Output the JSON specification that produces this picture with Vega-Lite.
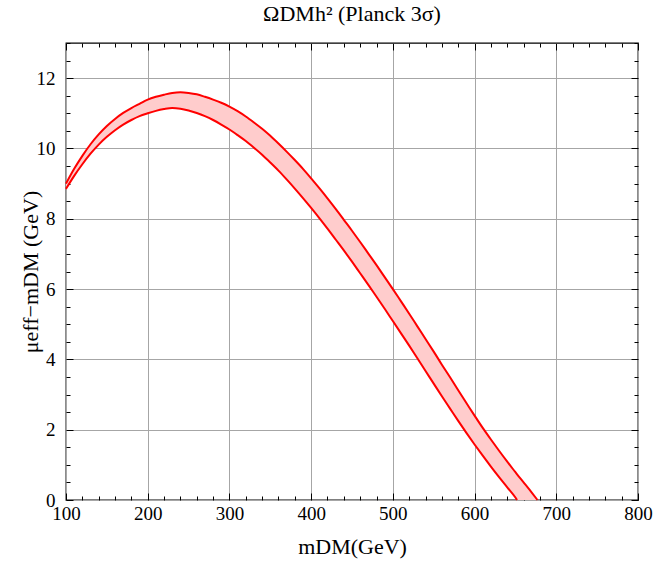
{
  "$schema": "https://vega.github.io/schema/vega-lite/v6.json",
  "width": 572,
  "height": 457,
  "autosize": {"type": "none"},
  "padding": {"left": 66, "top": 43, "right": 17, "bottom": 64},
  "background": "white",
  "title": {"text": "ΩDMh² (Planck 3σ)", "font": "Liberation Serif", "fontSize": 22, "fontWeight": "normal", "color": "black", "offset": 8},
  "config": {
    "view": {"stroke": "black", "strokeWidth": 1.3},
    "axis": {"domain": false, "labelFont": "Liberation Serif", "labelFontSize": 19, "labelColor": "black", "titleFont": "Liberation Serif", "titleFontSize": 22, "titleFontWeight": "normal", "titleColor": "black", "tickColor": "black", "tickWidth": 1, "gridColor": "#a6a6a6", "gridWidth": 1, "labelOverlap": false, "labelFlush": false}
  },
  "data": {"values": [
    {"m": 100, "lo": 8.85, "hi": 9.00},
    {"m": 110, "lo": 9.22, "hi": 9.42},
    {"m": 120, "lo": 9.55, "hi": 9.79},
    {"m": 130, "lo": 9.85, "hi": 10.12},
    {"m": 140, "lo": 10.11, "hi": 10.40},
    {"m": 150, "lo": 10.33, "hi": 10.64},
    {"m": 160, "lo": 10.52, "hi": 10.84},
    {"m": 170, "lo": 10.68, "hi": 11.01},
    {"m": 180, "lo": 10.81, "hi": 11.15},
    {"m": 190, "lo": 10.92, "hi": 11.27},
    {"m": 200, "lo": 11.00, "hi": 11.39},
    {"m": 210, "lo": 11.07, "hi": 11.47},
    {"m": 220, "lo": 11.12, "hi": 11.53},
    {"m": 230, "lo": 11.15, "hi": 11.58},
    {"m": 240, "lo": 11.13, "hi": 11.60},
    {"m": 250, "lo": 11.08, "hi": 11.58},
    {"m": 260, "lo": 11.01, "hi": 11.54},
    {"m": 270, "lo": 10.92, "hi": 11.47},
    {"m": 280, "lo": 10.81, "hi": 11.39},
    {"m": 290, "lo": 10.68, "hi": 11.30},
    {"m": 300, "lo": 10.54, "hi": 11.19},
    {"m": 310, "lo": 10.38, "hi": 11.06},
    {"m": 320, "lo": 10.21, "hi": 10.91},
    {"m": 330, "lo": 10.02, "hi": 10.74},
    {"m": 340, "lo": 9.82, "hi": 10.56},
    {"m": 350, "lo": 9.60, "hi": 10.36},
    {"m": 360, "lo": 9.37, "hi": 10.14},
    {"m": 370, "lo": 9.12, "hi": 9.91},
    {"m": 380, "lo": 8.86, "hi": 9.67},
    {"m": 390, "lo": 8.59, "hi": 9.42},
    {"m": 400, "lo": 8.31, "hi": 9.15},
    {"m": 410, "lo": 8.02, "hi": 8.87},
    {"m": 420, "lo": 7.72, "hi": 8.58},
    {"m": 430, "lo": 7.41, "hi": 8.28},
    {"m": 440, "lo": 7.10, "hi": 7.97},
    {"m": 450, "lo": 6.78, "hi": 7.66},
    {"m": 460, "lo": 6.45, "hi": 7.34},
    {"m": 470, "lo": 6.12, "hi": 7.01},
    {"m": 480, "lo": 5.78, "hi": 6.68},
    {"m": 490, "lo": 5.44, "hi": 6.34},
    {"m": 500, "lo": 5.09, "hi": 6.00},
    {"m": 510, "lo": 4.74, "hi": 5.65},
    {"m": 520, "lo": 4.39, "hi": 5.30},
    {"m": 530, "lo": 4.03, "hi": 4.94},
    {"m": 540, "lo": 3.67, "hi": 4.58},
    {"m": 550, "lo": 3.31, "hi": 4.22},
    {"m": 560, "lo": 2.95, "hi": 3.85},
    {"m": 570, "lo": 2.60, "hi": 3.49},
    {"m": 580, "lo": 2.25, "hi": 3.12},
    {"m": 590, "lo": 1.91, "hi": 2.76},
    {"m": 600, "lo": 1.58, "hi": 2.40},
    {"m": 610, "lo": 1.26, "hi": 2.05},
    {"m": 620, "lo": 0.95, "hi": 1.72},
    {"m": 630, "lo": 0.65, "hi": 1.40},
    {"m": 640, "lo": 0.36, "hi": 1.09},
    {"m": 650, "lo": 0.07, "hi": 0.79},
    {"m": 652, "lo": 0.00, "hi": 0.73},
    {"m": 660, "lo": 0.00, "hi": 0.50},
    {"m": 670, "lo": 0.00, "hi": 0.21},
    {"m": 677, "lo": 0.00, "hi": 0.00}
  ]},
  "layer": [
    {
      "mark": {"type": "area", "color": "#ffcccc", "opacity": 1, "interpolate": "monotone"},
      "encoding": {
        "x": {"field": "m", "type": "quantitative", "scale": {"domain": [100, 800], "nice": false, "zero": false},
          "axis": {"orient": "bottom", "title": "mDM(GeV)", "titlePadding": 10, "labelPadding": 11,
            "values": [100,120,140,160,180,200,220,240,260,280,300,320,340,360,380,400,420,440,460,480,500,520,540,560,580,600,620,640,660,680,700,720,740,760,780,800],
            "labelExpr": "datum.value % 100 === 0 ? toString(datum.value) : ''",
            "tickSize": {"condition": {"test": "datum.value % 100 === 0", "value": -7}, "value": -4},
            "grid": true,
            "gridOpacity": {"condition": {"test": "datum.value % 100 === 0", "value": 1}, "value": 0}}},
        "y": {"field": "hi", "type": "quantitative", "scale": {"domain": [0, 13], "nice": false},
          "axis": {"orient": "left", "title": "μeff−mDM (GeV)", "titleX": -24, "labelPadding": 18,
            "values": [0,0.5,1,1.5,2,2.5,3,3.5,4,4.5,5,5.5,6,6.5,7,7.5,8,8.5,9,9.5,10,10.5,11,11.5,12,12.5,13],
            "labelExpr": "datum.value % 2 === 0 ? toString(datum.value) : ''",
            "tickSize": {"condition": {"test": "datum.value % 2 === 0", "value": -7}, "value": -4},
            "grid": true,
            "gridOpacity": {"condition": {"test": "datum.value % 2 === 0", "value": 1}, "value": 0}}},
        "y2": {"field": "lo"}
      }
    },
    {
      "mark": {"type": "line", "color": "#ff0000", "strokeWidth": 2, "interpolate": "monotone"},
      "encoding": {
        "x": {"field": "m", "type": "quantitative",
          "axis": {"orient": "top", "title": null, "labels": false, "grid": false,
            "values": [100,120,140,160,180,200,220,240,260,280,300,320,340,360,380,400,420,440,460,480,500,520,540,560,580,600,620,640,660,680,700,720,740,760,780,800],
            "tickSize": {"condition": {"test": "datum.value % 100 === 0", "value": -7}, "value": -4}}},
        "y": {"field": "hi", "type": "quantitative",
          "axis": {"orient": "right", "title": null, "labels": false, "grid": false,
            "values": [0,0.5,1,1.5,2,2.5,3,3.5,4,4.5,5,5.5,6,6.5,7,7.5,8,8.5,9,9.5,10,10.5,11,11.5,12,12.5,13],
            "tickSize": {"condition": {"test": "datum.value % 2 === 0", "value": -7}, "value": -4}}}
      }
    },
    {
      "transform": [{"filter": "datum.m <= 652"}],
      "mark": {"type": "line", "color": "#ff0000", "strokeWidth": 2, "interpolate": "monotone"},
      "encoding": {
        "x": {"field": "m", "type": "quantitative", "axis": null},
        "y": {"field": "lo", "type": "quantitative", "axis": null}
      }
    }
  ],
  "resolve": {"axis": {"x": "independent", "y": "independent"}}
}
